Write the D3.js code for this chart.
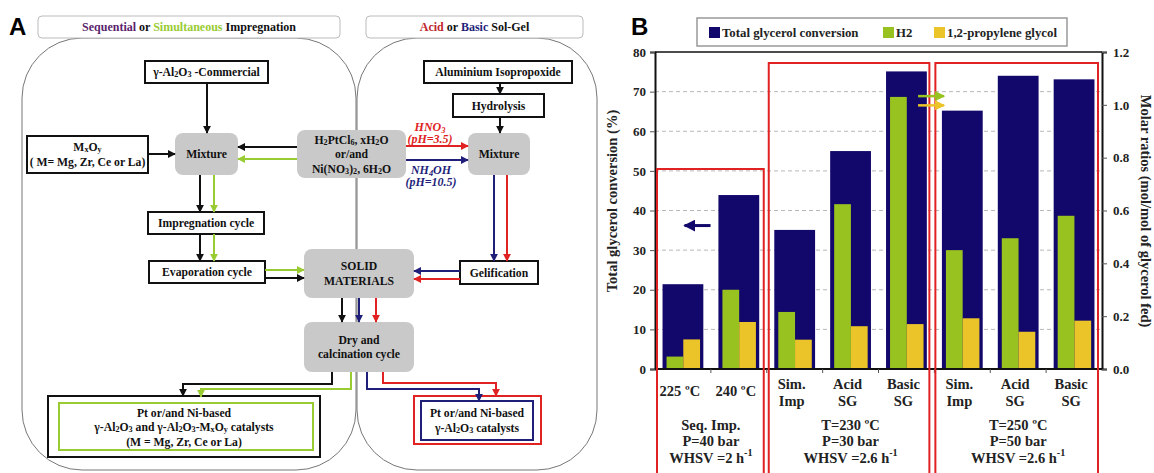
<!DOCTYPE html>
<html>
<head>
<meta charset="utf-8">
<script src="https://cdn.jsdelivr.net/npm/d3@7"></script>
<style>
  body { margin: 0; background: #fff; }
  text { font-family: "Liberation Serif", "Times New Roman", Times, "DejaVu Serif", serif; font-weight: bold; }
  text.big { font-family: "Liberation Sans", Arial, "DejaVu Sans", sans-serif; }
</style>
</head>
<body>
<script>
var W = 1154, H = 473;

// ---- panel B data ----
var catLines = [['225 ºC'], ['240 ºC'], ['Sim.', 'Imp'], ['Acid', 'SG'], ['Basic', 'SG'],
  ['Sim.', 'Imp'], ['Acid', 'SG'], ['Basic', 'SG']];
var conversion = [21.4, 43.9, 35.1, 55.0, 75.1, 65.2, 74.0, 73.1];   // %
var h2 = [0.047, 0.30, 0.216, 0.624, 1.03, 0.45, 0.495, 0.58];        // mol/mol
var pg = [0.112, 0.178, 0.111, 0.162, 0.170, 0.192, 0.141, 0.183];    // mol/mol
var groupLines = [['Seq. Imp.', 'P=40 bar', 'WHSV =2 h[-1]'],
  ['T=230 ºC', 'P=30 bar', 'WHSV =2.6 h[-1]'],
  ['T=250 ºC', 'P=50 bar', 'WHSV =2.6 h[-1]']];
var groupSpans = [[0, 1], [2, 4], [5, 7]];
var leftTicks = [0, 10, 20, 30, 40, 50, 60, 70, 80];
var rightTicks = [0, 0.2, 0.4, 0.6, 0.8, 1.0, 1.2];
var seriesNames = ['Total glycerol conversion', 'H2', '1,2-propylene glycol'];

var navy = '#12076a', green = '#98c21f', yellow = '#ebc42a', red = '#e02222';
var purple = '#5b1f6e', lime = '#99cc33', dred = '#c0262d', dblue = '#1f1f7a';
var serif = '"Liberation Serif", "Times New Roman", Times, "DejaVu Serif", serif';

var svg = d3.select('body').append('svg')
  .attr('width', W)
  .attr('height', H)

// arrow heads
var defs = svg.append('defs');
[['k', '#111'], ['g', lime], ['r', red], ['b', dblue], ['n', navy], ['y', yellow], ['gg', green]].forEach(function (c) {
  defs.append('marker')
    .attr('id', 'ah-' + c[0])
    .attr('viewBox', '0 0 10 10')
    .attr('refX', 9).attr('refY', 5)
    .attr('markerWidth', 4).attr('markerHeight', 4)
    .attr('orient', 'auto')
    .append('path').attr('d', 'M0,0L10,5L0,10z').attr('fill', c[1]);
});

// text with {sub} and [sup]
function rich(t, str, size) {
  str.split(/(\{[^}]*\}|\[[^\]]*\])/).forEach(function (p) {
    if (!p) return;
    var ts = t.append('tspan');
    if (p[0] === '{') ts.attr('baseline-shift', -size * 0.25).attr('font-size', size * 0.7).text(p.slice(1, -1));
    else if (p[0] === '[') ts.attr('baseline-shift', size * 0.38).attr('font-size', size * 0.7).text(p.slice(1, -1));
    else ts.text(p);
  });
}

function lines(g, ls, cx, cy, size, fill, lh) {
  lh = lh || size * 1.3;
  ls.forEach(function (l, i) {
    var t = g.append('text')
      .attr('x', cx)
      .attr('y', cy + (i - (ls.length - 1) / 2) * lh)
      .attr('text-anchor', 'middle')
      .attr('dominant-baseline', 'central')
      .attr('font-size', size)
      .attr('fill', fill || '#111');
    rich(t, l, size);
  });
}

// =================== PANEL A ===================
var A = svg.append('g');

A.append('text').attr('class', 'big').attr('x', 9).attr('y', 35).attr('font-size', 24).text('A');

// big rounded panels
A.append('rect').attr('x', 22).attr('y', 38).attr('width', 334).attr('height', 432).attr('rx', 60)
  .attr('fill', 'none').attr('stroke', '#777');
A.append('rect').attr('x', 357).attr('y', 38).attr('width', 240).attr('height', 432).attr('rx', 60)
  .attr('fill', 'none').attr('stroke', '#777');

// headers
var headers = [
  { x: 38, w: 302, parts: [['Sequential', purple], [' or ', '#111'], ['Simultaneous', lime], [' Impregnation', '#111']] },
  { x: 366, w: 217, parts: [['Acid', dred], [' or ', '#111'], ['Basic', dblue], [' Sol-Gel', '#111']] }
];
headers.forEach(function (hd) {
  A.append('rect').attr('x', hd.x).attr('y', 16).attr('width', hd.w).attr('height', 22).attr('rx', 4)
    .attr('fill', '#fff').attr('stroke', '#bbb');
  var t = A.append('text').attr('x', hd.x + hd.w / 2).attr('y', 27)
    .attr('text-anchor', 'middle').attr('dominant-baseline', 'central').attr('font-size', 12);
  hd.parts.forEach(function (p) { t.append('tspan').attr('fill', p[1]).text(p[0]); });
});

// flow nodes
var nodes = [
  { text: ['γ-Al{2}O{3} -Commercial'], x: 145, y: 61, w: 123, h: 22, kind: 'box' },
  { text: ['M{x}O{y}', '( M= Mg, Zr, Ce or La)'], x: 27, y: 136, w: 121, h: 37, kind: 'box' },
  { text: ['Mixture'], x: 175, y: 133, w: 63, h: 42, kind: 'gray' },
  { text: ['H{2}PtCl{6}, xH{2}O', 'or/and', 'Ni(NO{3}){2}, 6H{2}O'], x: 297, y: 130, w: 109, h: 48, kind: 'gray' },
  { text: ['Impregnation cycle'], x: 148, y: 212, w: 116, h: 22, kind: 'box' },
  { text: ['Evaporation cycle'], x: 149, y: 261, w: 116, h: 22, kind: 'box' },
  { text: ['SOLID', 'MATERIALS'], x: 304, y: 249, w: 110, h: 49, kind: 'gray' },
  { text: ['Gelification'], x: 460, y: 261, w: 78, h: 23, kind: 'box' },
  { text: ['Dry and', 'calcination cycle'], x: 304, y: 322, w: 110, h: 50, kind: 'gray' },
  { text: ['Aluminium  Isopropoxide'], x: 424, y: 61, w: 148, h: 22, kind: 'box' },
  { text: ['Hydrolysis'], x: 453, y: 94, w: 91, h: 23, kind: 'box' },
  { text: ['Mixture'], x: 468, y: 133, w: 62, h: 42, kind: 'gray' }
];
nodes.forEach(function (n) {
  var r = A.append('rect').attr('x', n.x).attr('y', n.y).attr('width', n.w).attr('height', n.h);
  if (n.kind === 'gray') r.attr('rx', 8).attr('fill', '#c9c9c9');
  else r.attr('fill', '#fff').attr('stroke', '#111').attr('stroke-width', 2);
  lines(A, n.text, n.x + n.w / 2, n.y + n.h / 2, 11.7, '#111', 14.5);
});

// final product boxes
A.append('rect').attr('x', 48).attr('y', 396).attr('width', 272).attr('height', 61)
  .attr('fill', '#fff').attr('stroke', '#111').attr('stroke-width', 2);
A.append('rect').attr('x', 59).attr('y', 403).attr('width', 254).attr('height', 47)
  .attr('fill', 'none').attr('stroke', lime).attr('stroke-width', 2);
lines(A, ['Pt or/and Ni-based', 'γ-Al{2}O{3} and γ-Al{2}O{3}-M{x}O{y} catalysts', '(M = Mg, Zr, Ce or La)'], 184, 427, 11.7, '#111', 14.5);

A.append('rect').attr('x', 414).attr('y', 396).attr('width', 127).attr('height', 48)
  .attr('fill', '#fff').attr('stroke', red).attr('stroke-width', 2);
A.append('rect').attr('x', 421).attr('y', 401).attr('width', 112).attr('height', 39)
  .attr('fill', 'none').attr('stroke', dblue).attr('stroke-width', 2);
lines(A, ['Pt or/and Ni-based', 'γ-Al{2}O{3} catalysts'], 477, 420, 11.7, '#111', 15);

// arrows
var links = [
  ['k', [[207, 83], [207, 133]]],
  ['k', [[148, 154], [175, 154]]],
  ['k', [[297, 147], [238, 147]]],
  ['g', [[297, 159], [238, 159]]],
  ['k', [[200, 175], [200, 212]]],
  ['g', [[214, 175], [214, 212]]],
  ['k', [[200, 234], [200, 261]]],
  ['g', [[214, 234], [214, 261]]],
  ['g', [[265, 270], [304, 270]]],
  ['k', [[265, 278], [304, 278]]],
  ['k', [[342, 298], [342, 322]]],
  ['b', [[359, 298], [359, 322]]],
  ['r', [[376, 298], [376, 322]]],
  ['k', [[332, 372], [332, 384], [183, 384], [183, 396]]],
  ['g', [[351, 372], [351, 389], [201, 389], [201, 397]]],
  ['b', [[367, 372], [367, 389], [479, 389], [479, 401]]],
  ['r', [[383, 372], [383, 383], [496, 383], [496, 396]]],
  ['k', [[500, 83], [500, 94]]],
  ['k', [[500, 117], [500, 133]]],
  ['r', [[406, 146], [468, 146]]],
  ['b', [[406, 160], [468, 160]]],
  ['b', [[494, 175], [494, 261]]],
  ['r', [[507, 175], [507, 261]]],
  ['b', [[460, 271], [414, 271]]],
  ['r', [[460, 279], [414, 279]]]
];
var lineColor = { k: '#111', g: lime, r: red, b: dblue };
var line = d3.line();
links.forEach(function (l) {
  A.append('path').attr('d', line(l[1])).attr('fill', 'none')
    .attr('stroke', lineColor[l[0]]).attr('stroke-width', 2)
    .attr('marker-end', 'url(#ah-' + l[0] + ')');
});

[[['HNO{3}', '(pH=3.5)'], 430, 133, red], [['NH{4}OH', '(pH=10.5)'], 431, 176, dblue]].forEach(function (d) {
  var g = A.append('g').attr('font-style', 'italic');
  lines(g, d[0], d[1], d[2], 12, d[3], 12.5);
});

// =================== PANEL B ===================
var B = svg.append('g');
B.append('text').attr('class', 'big').attr('x', 631).attr('y', 35).attr('font-size', 24).text('B');

var x0 = 655, x1 = 1102, yTop = 52, yBot = 369;
var x = d3.scaleBand().domain(d3.range(catLines.length)).range([x0, x1])
  .paddingInner(0.27).paddingOuter(0.135);
var xs = d3.scaleBand().domain(['h2', 'pg']).range([4, 37.5]);
var yL = d3.scaleLinear().domain([0, 80]).range([yBot, yTop]);
var yR = d3.scaleLinear().domain([0, 1.2]).range([yBot, yTop]);
var step = x.step();
function bound(k) { return x0 + k * step; }

// grid
B.selectAll('line.grid').data(leftTicks.slice(1, -1)).enter().append('line')
  .attr('x1', x0).attr('x2', x1)
  .attr('y1', function (d) { return yL(d); }).attr('y2', function (d) { return yL(d); })
  .attr('stroke', '#b8b8b8').attr('stroke-dasharray', '4,3');

// bars
B.selectAll('rect.conv').data(conversion).enter().append('rect')
  .attr('x', function (d, i) { return x(i); })
  .attr('y', function (d) { return yL(d); })
  .attr('width', x.bandwidth())
  .attr('height', function (d) { return yBot - yL(d); })
  .attr('fill', navy);
B.selectAll('rect.h2').data(h2).enter().append('rect')
  .attr('x', function (d, i) { return x(i) + xs('h2'); })
  .attr('y', function (d) { return yR(d); })
  .attr('width', xs.bandwidth())
  .attr('height', function (d) { return yBot - yR(d); })
  .attr('fill', green);
B.selectAll('rect.pg').data(pg).enter().append('rect')
  .attr('x', function (d, i) { return x(i) + xs('pg'); })
  .attr('y', function (d) { return yR(d); })
  .attr('width', xs.bandwidth())
  .attr('height', function (d) { return yBot - yR(d); })
  .attr('fill', yellow);

// frame + axes
B.append('line').attr('x1', x0).attr('x2', x1).attr('y1', yTop).attr('y2', yTop).attr('stroke', '#111').attr('stroke-width', 1.5);

var axL = B.append('g').attr('transform', 'translate(' + x0 + ',0)')
  .call(d3.axisLeft(yL).tickValues(leftTicks).tickSize(5).tickPadding(4).tickFormat(d3.format('d')));
var axR = B.append('g').attr('transform', 'translate(' + x1 + ',0)')
  .call(d3.axisRight(yR).tickValues(rightTicks).tickSize(5).tickPadding(6).tickFormat(d3.format('.1f')));
[axL, axR].forEach(function (ax) {
  ax.attr('font-family', serif);
  ax.select('.domain').attr('stroke', '#111').attr('stroke-width', 2);
  ax.selectAll('.tick line').attr('stroke', '#555');
  ax.selectAll('text').attr('font-size', 13).attr('fill', '#222')
    .style('font-family', serif).style('font-weight', 'bold');
});

B.append('line').attr('x1', x0).attr('x2', x1).attr('y1', yBot).attr('y2', yBot).attr('stroke', '#111').attr('stroke-width', 2);
B.selectAll('line.xt').data(d3.range(1, catLines.length)).enter().append('line')
  .attr('x1', function (k) { return bound(k); }).attr('x2', function (k) { return bound(k); })
  .attr('y1', yBot).attr('y2', yBot + 4).attr('stroke', '#555');

// category labels
catLines.forEach(function (ls, i) {
  lines(B, ls, x(i) + x.bandwidth() / 2 - 3, ls.length === 1 ? 391 : 392, 14.5, '#222', 17);
});
// group labels
groupLines.forEach(function (ls, i) {
  var s = groupSpans[i];
  var cx = (bound(s[0]) + bound(s[1] + 1)) / 2;
  lines(B, ls, cx, 441, 14.5, '#222', 16.5);
});

// red group boxes
var boxes = [[bound(0) + 2, bound(2) - 3, yL(50.5)], [bound(2) + 2, bound(5) - 5, yL(77.2)], [bound(5) + 1, bound(8) - 4, yL(77.2)]];
boxes.forEach(function (b) {
  B.append('path').attr('d', 'M' + b[0] + ',' + (H + 5) + 'V' + b[2] + 'H' + b[1] + 'V' + (H + 5))
    .attr('fill', 'none').attr('stroke', red).attr('stroke-width', 2);
});

// axis pointers
B.append('line').attr('x1', x(0) + 48).attr('x2', x(0) + 22)
  .attr('y1', yL(36.2)).attr('y2', yL(36.2))
  .attr('stroke', navy).attr('stroke-width', 3).attr('marker-end', 'url(#ah-n)');
B.append('line').attr('x1', x(4) + 32).attr('x2', x(4) + 58)
  .attr('y1', yR(1.033)).attr('y2', yR(1.033))
  .attr('stroke', green).attr('stroke-width', 2.5).attr('marker-end', 'url(#ah-gg)');
B.append('line').attr('x1', x(4) + 32).attr('x2', x(4) + 58)
  .attr('y1', yR(0.998)).attr('y2', yR(0.998))
  .attr('stroke', yellow).attr('stroke-width', 2.5).attr('marker-end', 'url(#ah-y)');

// axis titles
B.append('text').attr('transform', 'translate(617,201) rotate(-90)')
  .attr('text-anchor', 'middle').attr('font-size', 14.5).attr('fill', '#222')
  .text('Total glycerol conversion (%)');
B.append('text').attr('transform', 'translate(1141,211) rotate(90)')
  .attr('text-anchor', 'middle').attr('font-size', 14.5).attr('fill', '#222')
  .text('Molar ratios (mol/mol of glycerol fed)');

// legend
B.append('rect').attr('x', 697).attr('y', 18).attr('width', 370).attr('height', 28)
  .attr('fill', '#fff').attr('stroke', '#999').attr('stroke-width', 1.5);
var legX = [709, 883, 934], legC = [navy, green, yellow];
seriesNames.forEach(function (name, i) {
  B.append('rect').attr('x', legX[i]).attr('y', 27).attr('width', 11).attr('height', 11).attr('fill', legC[i]);
  B.append('text').attr('x', legX[i] + 13).attr('y', 37).attr('font-size', 12.8).attr('fill', '#222').text(name);
});
</script>
</body>
</html>
